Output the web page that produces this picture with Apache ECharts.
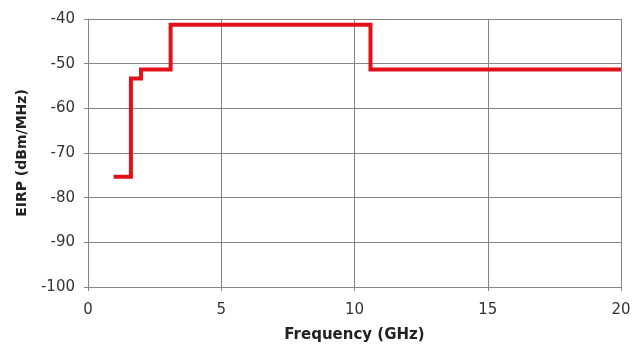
<!DOCTYPE html>
<html><head><meta charset="utf-8">
<script src="https://cdn.jsdelivr.net/npm/echarts@6/dist/echarts.min.js"></script>
<style>html,body{margin:0;padding:0;background:#fff}#c{width:632px;height:351px}</style>
</head><body><div id="c"></div>
<script>
const stepFreqs = [0.96, 1.61, 1.99, 3.1, 10.6, 20];
const stepLevels = [-75.3, -53.3, -51.3, -41.3, -51.3, -51.3];
const xTicks = [0, 5, 10, 15, 20];
const yTicks = [-100, -90, -80, -70, -60, -50, -40];

const data = stepFreqs.map((f, i) => [f, stepLevels[i]]);
const chart = echarts.init(document.getElementById('c'), null, {renderer: 'canvas'});
const gridColor = '#858585';
const font = '"DejaVu Sans", Arial, sans-serif';
chart.setOption({
  animation: false,
  backgroundColor: '#fff',
  grid: {left: 88, right: 11, top: 19, bottom: 64, outerBoundsMode: 'none', containLabel: false},
  xAxis: {
    type: 'value', min: xTicks[0], max: xTicks[xTicks.length - 1], interval: 5,
    name: 'Frequency (GHz)', nameLocation: 'middle', nameGap: 41,
    nameTextStyle: {fontFamily: font, fontWeight: 'bold', fontSize: 15, color: '#222'},
    axisLine: {show: true, lineStyle: {color: gridColor, width: 1}},
    axisTick: {show: true, length: 4, lineStyle: {color: gridColor}},
    axisLabel: {margin: 16, fontFamily: font, fontSize: 15, color: '#333'},
    splitLine: {show: true, lineStyle: {color: gridColor, width: 1}}
  },
  yAxis: {
    type: 'value', min: yTicks[0], max: yTicks[yTicks.length - 1], interval: 10,
    name: 'EIRP (dBm/MHz)', nameLocation: 'middle', nameGap: 59, nameRotate: 90,
    nameTextStyle: {fontFamily: font, fontWeight: 'bold', fontSize: 14, color: '#222'},
    axisLine: {show: true, lineStyle: {color: gridColor, width: 1}},
    axisTick: {show: true, length: 4, lineStyle: {color: gridColor}},
    axisLabel: {margin: 13, fontFamily: font, fontSize: 15, color: '#333'},
    splitLine: {show: true, lineStyle: {color: gridColor, width: 1}}
  },
  series: [{
    type: 'line', step: 'end', data: data, showSymbol: false, symbol: 'none',
    lineStyle: {color: '#e2101b', width: 4, join: 'miter', cap: 'butt'}
  }]
});
</script></body></html>
